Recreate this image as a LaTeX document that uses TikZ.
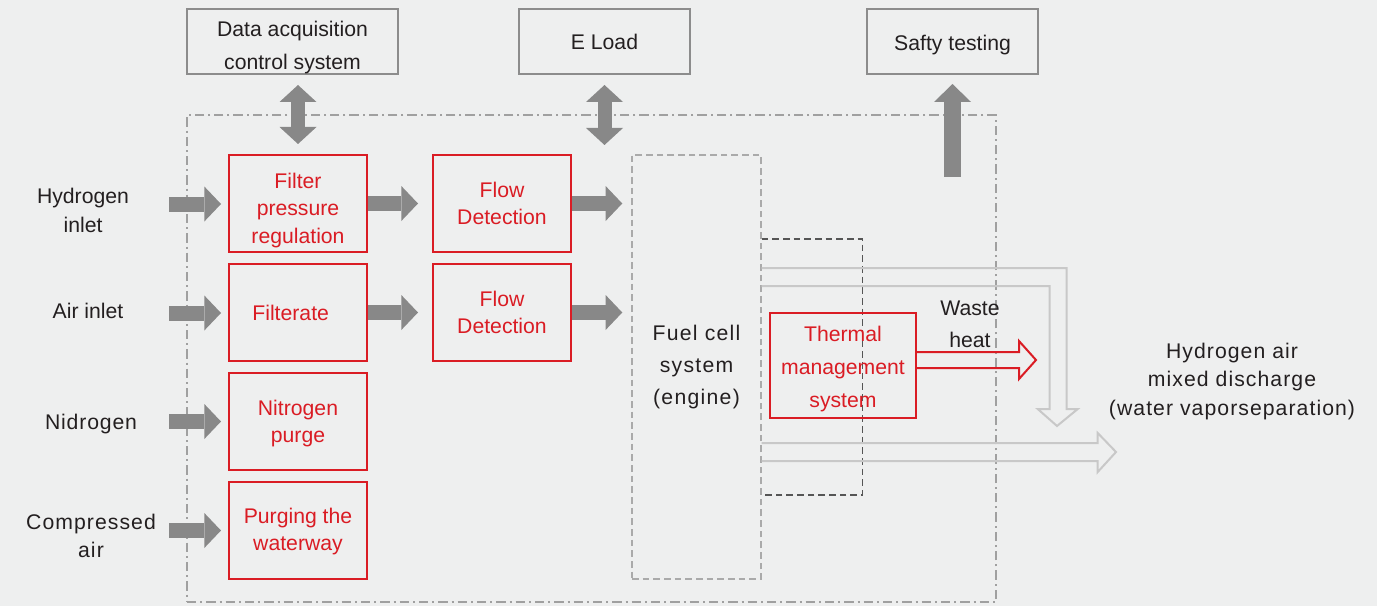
\documentclass[tikz,border=0pt]{standalone}
\usepackage{fontspec}
\setmainfont{Liberation Sans}
\usetikzlibrary{arrows.meta,calc}
\definecolor{bg}{HTML}{EEEFEF}
\definecolor{redc}{HTML}{DA1C24}
\definecolor{txt}{HTML}{231F20}
\definecolor{agray}{HTML}{888888}
\definecolor{bgray}{HTML}{8C8C8C}
\definecolor{lgray}{HTML}{C8C8C8}
\definecolor{dgray}{HTML}{555555}
\definecolor{ogray}{HTML}{A0A0A0}
\definecolor{fgray}{HTML}{AAAAAA}
\newcommand\fsz[1]{\fontsize{15.9pt}{#1}\selectfont}
\begin{document}
\begin{tikzpicture}[x=0.75pt,y=-0.75pt,
  topbox/.style={draw=bgray, line width=1.5pt, text=txt, align=center, minimum width=158.25pt, minimum height=48.75pt, inner sep=0pt, font=\fsz{24.75pt}},
  redbox/.style={draw=redc, line width=1.5pt, text=redc, align=center, minimum width=103.5pt, minimum height=72.75pt, inner sep=0pt, font=\fsz{20.6pt}},
  redtxt/.style={text=redc, align=center, inner sep=0pt, font=\fsz{20.6pt}},
  toptxt/.style={text=txt, align=center, inner sep=0pt, font=\fsz{24.75pt}},
  lbl/.style={text=txt, align=center, inner sep=0pt, font=\fsz{21.75pt}},
  blk/.style={draw=agray, line width=11.25pt, -{Triangle[length=12.5pt, width=26.25pt, line width=0pt]}},
  dbl/.style={draw=agray, line width=10.5pt, {Triangle[length=12.75pt, width=27.75pt, line width=0pt]}-{Triangle[length=12.75pt, width=27.75pt, line width=0pt]}},
  uparr/.style={draw=agray, line width=12.75pt, -{Triangle[length=13.5pt, width=27.75pt, line width=0pt]}},
  lightarr/.style={draw=lgray, line width=1.5pt, line join=miter},
  wastearr/.style={draw=redc, line width=1.5pt, line join=miter},
  outerbox/.style={draw=ogray, line width=1.1pt, dash pattern=on 7pt off 3pt on 1.5pt off 3pt},
  fuelbox/.style={draw=fgray, line width=1.1pt, dash pattern=on 5pt off 3pt, text=txt, align=center, inner sep=0pt, minimum width=96.75pt, minimum height=318pt},
  dkdash/.style={draw=dgray, line width=1.1pt, dash pattern=on 5pt off 3pt}
]
\path[fill=bg] (0,0) rectangle (1377,606);

% top boxes
\node[topbox] (dacq) at (292.5,41.5) {};
\node[toptxt] (dacqtxt) at ($(dacq.center)+(0,6)$) {Data acquisition\\control system};
\node[topbox, minimum width=128.25pt] (eload) at (604.5,41.5) {E Load};
\node[topbox, minimum width=128.25pt] (safty) at (952.5,41.5) {};
\node[toptxt] (saftytxt) at ($(safty.center)+(0,3.5)$) {Safty testing};

% outer system box
\node[outerbox, minimum width=606.75pt, minimum height=365.25pt, inner sep=0pt] (sys) at (591.5,358.5) {};

% fuel cell and dashed enclosure
\node[fuelbox, font=\fsz{24pt}\addfontfeature{LetterSpace=6}] (fuel) at (696.5,367) {Fuel cell\\system\\(engine)};
\draw[dkdash] ($(fuel.east)+(0,-128)$) -- ($(fuel.east)+(101,-128)$) -- ($(fuel.east)+(101,128)$) -- ($(fuel.east)+(0,128)$);

% red boxes
\node[redbox] (fpr) at (298,203.5) {};
\node[redtxt] (fprtxt) at ($(fpr.center)+(0,7)$) {Filter\\pressure\\regulation};
\node[redbox] (filt) at (298,312.5) {Filterate\hspace*{11pt}};
\node[redbox] (nit) at (298,421.5) {};
\node[redtxt] (nittxt) at ($(nit.center)+(0,2)$) {Nitrogen\\purge};
\node[redbox] (purge) at (298,530.5) {};
\node[redtxt] (purgetxt) at ($(purge.center)+(0,1)$) {Purging the\\waterway};
\node[redbox] (fd1) at (502,203.5) {Flow\\Detection};
\node[redbox] (fd2) at (502,312.5) {Flow\\Detection};
\node[redbox, minimum width=109.5pt, minimum height=78.75pt] (tms) at (843,365.5) {};
\node[redtxt, font=\fsz{24.4pt}] (tmstxt) at ($(tms.center)+(0,3.5)$) {Thermal\\management\\system};

% left labels
\node[lbl] (h2lbl) at (83,210) {Hydrogen\\inlet};
\node[lbl] (airlbl) at (88,311) {Air inlet};
\node[lbl, font=\fsz{21.75pt}\addfontfeature{LetterSpace=4}] (nitlbl) at (91,424) {Nidrogen};
\node[lbl, font=\fsz{21pt}\addfontfeature{LetterSpace=5}] (complbl) at (91,536) {Compressed\\air};
\node[lbl, font=\fsz{24pt}] (wastelbl) at (970,324) {Waste\\heat};
\node[lbl, font=\fsz{21.4pt}\addfontfeature{LetterSpace=5}] (outlbl) at (1232,381.5) {Hydrogen air\\mixed discharge\\(water vaporseparation)};

% inlet arrows
\coordinate (h2in) at (169,204);
\coordinate (airin) at (169,313);
\coordinate (nitin) at (169,421.5);
\coordinate (compin) at (169,530.5);
\draw[blk, shorten >=5.25pt] (h2in) -- (h2in -| fpr.west);
\draw[blk, shorten >=5.25pt] (airin) -- (airin -| filt.west);
\draw[blk, shorten >=5.25pt] (nitin) -- (nitin -| nit.west);
\draw[blk, shorten >=5.25pt] (compin) -- (compin -| purge.west);

% internal arrows
\draw[blk, shorten >=10.5pt] (fpr.east) -- (fpr.east -| fd1.west);
\draw[blk, shorten >=10.5pt] (filt.east) -- (filt.east -| fd2.west);
\draw[blk, shorten >=6.75pt] (fd1.east) -- (fd1.east -| fuel.west);
\draw[blk, shorten >=6.75pt] (fd2.east) -- (fd2.east -| fuel.west);

% vertical arrows
\draw[dbl, shorten <=7.5pt, shorten >=7.5pt] (dacq.south -| fpr.north) -- (fpr.north);
\coordinate (eloadin) at (604.5,145);
\draw[dbl, shorten <=7.5pt] (eload.south) -- (eloadin);
\coordinate (saftysrc) at (952.5,177);
\draw[uparr, shorten >=6.75pt] (saftysrc) -- (safty.south);

% waste heat arrow
\coordinate (wtip) at (1036,360);
\draw[wastearr] ($(tms.east)+(0,-13.5)$) -- ($(tms.east)+(102,-13.5)$) -- ($(tms.east)+(102,-24.5)$) -- (wtip) -- ($(tms.east)+(102,13.5)$) -- ($(tms.east)+(102,2.5)$) -- ($(tms.east)+(0,2.5)$);

% light outlined discharge arrows
\coordinate (bendtip) at (1057,426);
\coordinate (outtip) at (1116,452);
\draw[lightarr] ($(fuel.east)+(0,-99)$) -- ($(fuel.east)+(305,-99)$) -- ($(fuel.east)+(305,42)$) -- ($(fuel.east)+(316,42)$) -- (bendtip) -- ($(fuel.east)+(276,42)$) -- ($(fuel.east)+(288,42)$) -- ($(fuel.east)+(288,-81)$) -- ($(fuel.east)+(0,-81)$);
\draw[lightarr] ($(fuel.east)+(0,76)$) -- ($(fuel.east)+(336,76)$) -- ($(fuel.east)+(336,66)$) -- (outtip) -- ($(fuel.east)+(336,105)$) -- ($(fuel.east)+(336,94)$) -- ($(fuel.east)+(0,94)$);
\end{tikzpicture}
\end{document}
